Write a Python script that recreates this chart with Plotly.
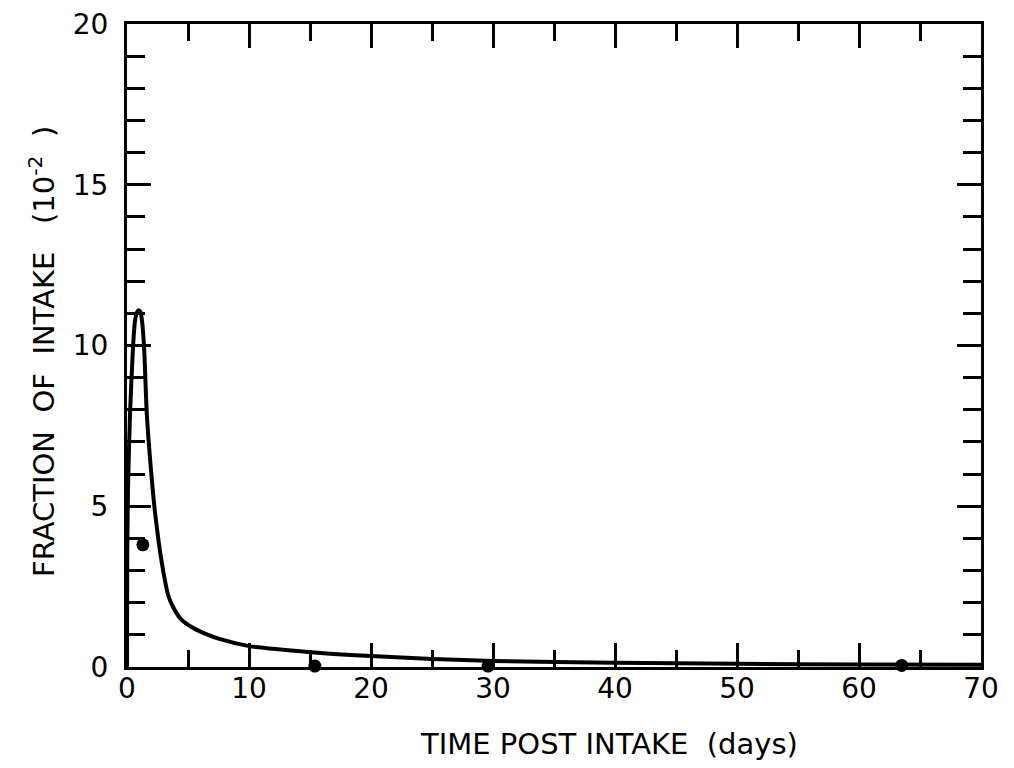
import plotly.graph_objects as go

# Model curve (days, fraction of intake x 1e-2)
curve_days = [0, 0.02, 0.08, 0.25, 0.5, 0.65, 0.8, 0.95, 1.1, 1.22, 1.32, 1.42, 1.62, 1.95, 2.3, 2.85,
              3.4, 3.8, 4.4, 5.4, 6.5, 7.5, 10, 15, 20, 25, 30, 40, 50, 60, 70]
curve_frac = [0, 3.5, 5.5, 7.9, 10.0, 10.75, 11.02, 11.1, 11.05, 10.8, 10.4, 9.8, 7.9, 6.2, 4.8, 3.25,
              2.2, 1.85, 1.5, 1.22, 1.02, 0.88, 0.65, 0.46, 0.34, 0.25, 0.19, 0.13, 0.1, 0.08, 0.07]

# Measured data points
obs_days = [1.3, 15.4, 29.6, 63.5]
obs_frac = [3.8, 0.03, 0.03, 0.05]

x_ticks = [0, 10, 20, 30, 40, 50, 60, 70]
y_ticks = [0, 5, 10, 15, 20]

x_title = "TIME\u00a0POST\u00a0INTAKE\u00a0\u00a0(days)"
y_title = "FRACTION\u00a0\u00a0OF\u00a0\u00a0INTAKE\u00a0\u00a0\u00a0(10<sup>-2</sup>\u00a0\u00a0)"

FONT = "DejaVu Sans"

fig = go.Figure()
fig.add_trace(go.Scatter(x=curve_days, y=curve_frac, mode="lines",
                         line=dict(color="black", width=4, shape="spline", smoothing=0.6),
                         showlegend=False, hoverinfo="skip"))
fig.add_trace(go.Scatter(x=obs_days, y=obs_frac, mode="markers",
                         marker=dict(color="black", size=13),
                         showlegend=False, cliponaxis=False))

axis_common = dict(showgrid=False, zeroline=False, showline=True, linecolor="black",
                   linewidth=3, ticks="inside", tickcolor="black", tickwidth=2.5,
                   mirror="allticks", ticklabeloverflow="allow", automargin=False,
                   tickfont=dict(family=FONT, size=28, color="black"))

fig.update_xaxes(range=[0, 70], tickvals=x_ticks, ticktext=[str(v) for v in x_ticks],
                 ticklen=24, ticklabelstandoff=-6,
                 minor=dict(dtick=5, ticklen=17, ticks="inside", tickcolor="black", tickwidth=2.5),
                 **axis_common)
fig.update_yaxes(range=[0, 20], tickvals=y_ticks, ticktext=[str(v) for v in y_ticks],
                 ticklen=24, ticklabelstandoff=10,
                 minor=dict(dtick=1, ticklen=18, ticks="inside", tickcolor="black", tickwidth=2.5),
                 **axis_common)

fig.add_annotation(text=x_title, xref="paper", yref="paper", x=0.564, y=-0.12,
                   xanchor="center", yanchor="middle", showarrow=False,
                   font=dict(family=FONT, size=29, color="black"))
fig.add_annotation(text=y_title, xref="paper", yref="paper", x=-0.0995, y=0.49,
                   xanchor="center", yanchor="middle", showarrow=False, textangle=-90,
                   font=dict(family=FONT, size=29, color="black"))

fig.update_layout(width=1006, height=760, plot_bgcolor="white", paper_bgcolor="white",
                  margin=dict(l=119, r=33, t=16, b=101))

fig.write_html("out.html")
